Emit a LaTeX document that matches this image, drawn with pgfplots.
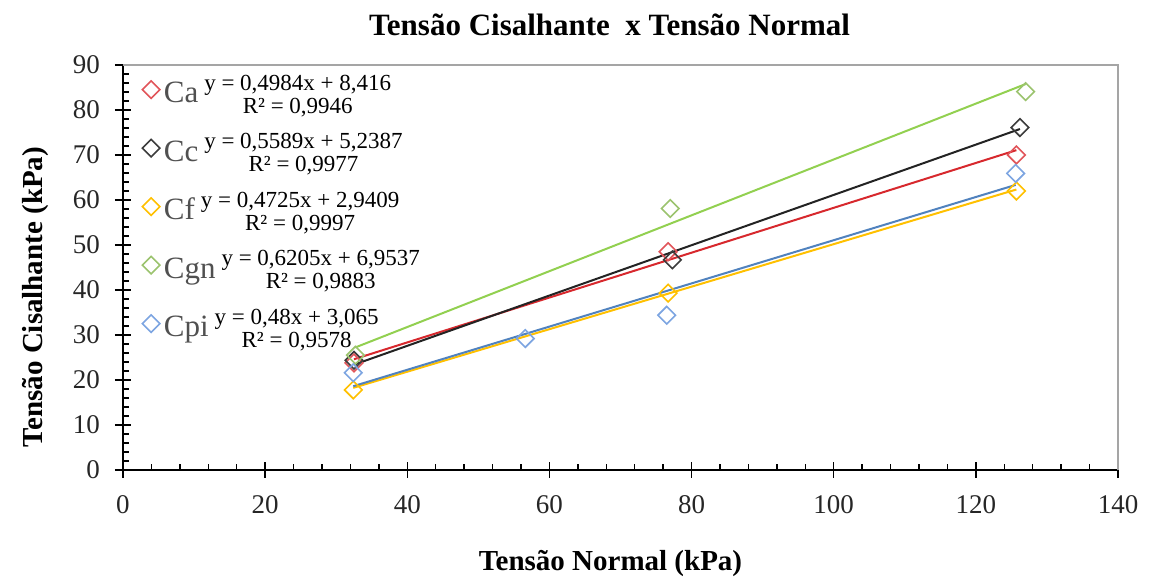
\documentclass[border=0pt]{standalone}
\usepackage{fontspec}
\setmainfont{Liberation Serif}
\usepackage{pgfplots}
\pgfplotsset{compat=1.18}
\definecolor{caM}{RGB}{225,85,90}
\definecolor{caL}{RGB}{215,40,45}
\definecolor{ccM}{RGB}{60,60,60}
\definecolor{ccL}{RGB}{35,35,35}
\definecolor{cfM}{RGB}{255,192,0}
\definecolor{cfL}{RGB}{255,192,0}
\definecolor{cgM}{RGB}{155,195,110}
\definecolor{cgL}{RGB}{146,208,80}
\definecolor{cpM}{RGB}{125,165,225}
\definecolor{cpL}{RGB}{80,130,190}
\definecolor{legtext}{RGB}{80,80,80}
\definecolor{frame}{RGB}{165,165,165}
\newcommand{\legname}[1]{{\fontsize{15.5}{16}\selectfont\color{legtext}#1}}
\newcommand{\legeq}[2]{{\fontsize{11.5}{12}\selectfont\begin{tabular}[c]{@{}c@{}}#1\\[-0.5pt]#2\end{tabular}}}
\begin{document}
\begin{tikzpicture}
\begin{axis}[
  name=ax,
  scale only axis,
  width=497.5pt, height=202.5pt,
  xmin=0, xmax=140, ymin=0, ymax=90,
  axis lines=left,
  axis line style={-, black, line width=0.8pt},
  xtick={0,20,...,140}, ytick={0,10,...,90},
  minor x tick num=4, minor y tick num=4,
  tick align=inside,
  major tick length=4pt, minor tick length=3pt,
  tick style={black, line width=0.7pt},
  extra x ticks={0,20,...,140}, extra x tick labels={},
  extra y ticks={0,10,...,90}, extra y tick labels={},
  extra tick style={tick align=outside, major tick length=4pt, grid=none},
  ticklabel style={font=\fontsize{13.5}{14}\selectfont, text=black!85},
  /pgf/number format/assume math mode=true,
  yticklabel style={xshift=-8pt},
  xticklabel style={yshift=-9pt},
  title={Tensão Cisalhante\ \ x Tensão Normal},
  title style={at={(axis description cs:0.489,1.069)}, anchor=center, font=\bfseries\fontsize{15.5}{16}\selectfont},
  xlabel={Tensão Normal (kPa)},
  xlabel style={at={(axis description cs:0.490,-0.230)}, anchor=center, font=\bfseries\fontsize{14.5}{15}\selectfont},
  ylabel={Tensão Cisalhante (kPa)},
  ylabel style={at={(axis description cs:-0.088,0.427)}, anchor=center, font=\bfseries\fontsize{14.5}{15}\selectfont},
  legend style={draw=none, fill=none, at={(axis description cs:0.017,0.995)}, anchor=north west, row sep=9pt, inner sep=1pt},
  legend cell align=left,
  clip=false,
]
% trend lines
\addplot[caL, line width=1pt, forget plot] coordinates {(32.5,24.61) (125.7,71.07)};
\addplot[ccL, line width=1pt, forget plot] coordinates {(32.5,23.40) (126.2,75.77)};
\addplot[cfL, line width=1pt, forget plot] coordinates {(32.4,18.25) (125.7,62.33)};
\addplot[cgL, line width=1pt, forget plot] coordinates {(32.7,27.24) (127.0,85.76)};
\addplot[cpL, line width=1pt, forget plot] coordinates {(32.4,18.62) (125.6,63.35)};
% data
\addplot[only marks, mark=square, mark size=3.1pt, mark options={rotate=45, draw=caM, line width=0.8pt}] coordinates {(32.5,23.8) (76.7,48.5) (125.7,70.0)};
\addlegendentry{\legname{Ca}\hspace{3pt}\legeq{y = 0,4984x + 8,416}{R² = 0,9946}}
\addplot[only marks, mark=square, mark size=3.1pt, mark options={rotate=45, draw=ccM, line width=0.8pt}] coordinates {(32.5,24.4) (77.3,46.7) (126.2,76.1)};
\addlegendentry{\legname{Cc}\hspace{3pt}\legeq{y = 0,5589x + 5,2387}{R² = 0,9977}}
\addplot[only marks, mark=square, mark size=3.1pt, mark options={rotate=45, draw=cfM, line width=0.8pt}] coordinates {(32.4,17.8) (76.7,39.3) (125.7,62.0)};
\addlegendentry{\legname{Cf}\hspace{3pt}\legeq{y = 0,4725x + 2,9409}{R² = 0,9997}}
\addplot[only marks, mark=square, mark size=3.1pt, mark options={rotate=45, draw=cgM, line width=0.8pt}] coordinates {(32.7,25.5) (77.0,58.1) (127.0,84.1)};
\addlegendentry{\legname{Cgn}\hspace{3pt}\legeq{y = 0,6205x + 6,9537}{R² = 0,9883}}
\addplot[only marks, mark=square, mark size=3.1pt, mark options={rotate=45, draw=cpM, line width=0.8pt}] coordinates {(32.4,21.6) (56.6,29.2) (76.5,34.4) (125.6,65.9)};
\addlegendentry{\legname{Cpi}\hspace{3pt}\legeq{y = 0,48x + 3,065}{R² = 0,9578}}
\draw[frame, line width=0.8pt] (rel axis cs:0,1) -- (rel axis cs:1,1) -- (rel axis cs:1,0);
\coordinate (bl) at (rel axis cs:0,0);
\coordinate (tr) at (rel axis cs:1,1);
\end{axis}
\pgfresetboundingbox
\path ([shift={(-61.5pt,-53.5pt)}]bl) rectangle ([shift={(15.5pt,32.5pt)}]tr);
\end{tikzpicture}
\end{document}
